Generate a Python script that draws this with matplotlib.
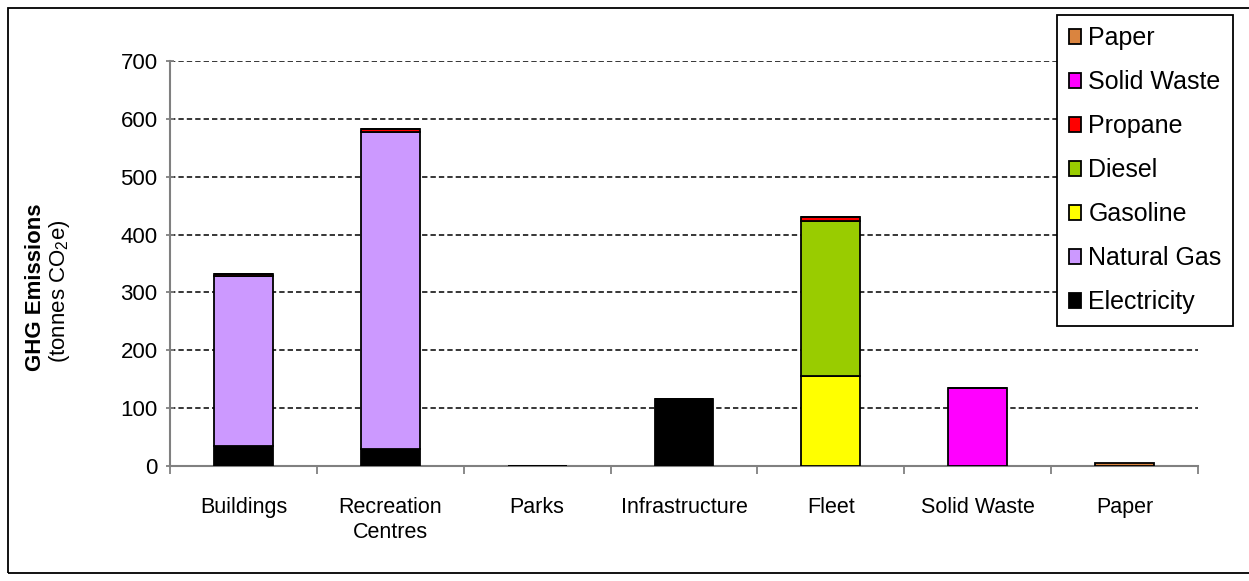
import matplotlib
matplotlib.use("Agg")
import matplotlib.pyplot as plt
from matplotlib.patches import Rectangle
import numpy as np

plt.rcParams["font.family"] = ["Liberation Sans", "DejaVu Sans"]
plt.rcParams["mathtext.fontset"] = "custom"
plt.rcParams["mathtext.rm"] = "Liberation Sans"

categories = ["Buildings", "Recreation\nCentres", "Parks", "Infrastructure",
              "Fleet", "Solid Waste", "Paper"]

# emissions by source, tonnes CO2e
electricity = [35, 29, 0.5, 116, 0, 0, 0]
natural_gas = [294, 548, 0, 0, 0, 0, 0]
gasoline = [0, 0, 0, 0, 156, 0, 0]
diesel = [0, 0, 0, 0, 268, 0, 0]
propane = [2, 6, 0, 0, 7, 0, 0]
solid_waste = [0, 0, 0, 0, 0, 134, 0]
paper = [0, 0, 0, 0, 0, 0, 6]

series = [
    ("Electricity", electricity, "#000000"),
    ("Natural Gas", natural_gas, "#CC99FF"),
    ("Gasoline", gasoline, "#FFFF00"),
    ("Diesel", diesel, "#99CC00"),
    ("Propane", propane, "#FF0000"),
    ("Solid Waste", solid_waste, "#FF00FF"),
    ("Paper", paper, "#DA843F"),
]

W, H = 1249, 581
fig = plt.figure(figsize=(W / 100, H / 100), dpi=100)
ax = fig.add_axes([170 / W, 1 - 466 / H, (1198 - 170) / W, (466 - 61) / H])

x = np.arange(len(categories))
bottom = np.zeros(len(categories))
handles = []
for name, vals, color in series:
    vals = np.array(vals, dtype=float)
    b = ax.bar(x, vals, 0.4, bottom=bottom, color=color, edgecolor="black",
               linewidth=1.3, label=name, zorder=3)
    handles.append(b)
    bottom += vals

ax.set_xlim(-0.5, len(categories) - 0.5)
ax.set_ylim(0, 700)
ax.set_yticks(range(0, 701, 100))
ax.set_xticks(x)
ax.set_xticklabels(categories, fontsize=15.5, linespacing=1.3)
ax.tick_params(axis="x", length=0, pad=22)
ax.set_xticks(np.arange(len(categories) + 1) - 0.5, minor=True)
ax.tick_params(axis="x", which="minor", length=6, width=1.3, color="#808080",
               direction="out")
ax.tick_params(axis="y", labelsize=16, length=6, width=1.3, color="#808080",
               direction="inout", pad=6)

ax.yaxis.grid(True, linestyle=(0, (3.5, 2)), color="black", linewidth=1.1,
              zorder=1)
ax.set_axisbelow(True)
for side in ["top", "right"]:
    ax.spines[side].set_visible(False)
for side in ["left", "bottom"]:
    ax.spines[side].set_color("#808080")
    ax.spines[side].set_linewidth(1.5)

fig.text(36 / W, 1 - 287 / H, "GHG Emissions", rotation=90, fontsize=16,
         fontweight="bold", ha="center", va="center")
fig.text(59 / W, 1 - 291 / H, "(tonnes CO$_2$e)", rotation=90, fontsize=16,
         ha="center", va="center")

leg = fig.legend(handles[::-1], [s[0] for s in series][::-1],
                 loc="upper right", bbox_to_anchor=(1233 / W, 1 - 15 / H),
                 bbox_transform=fig.transFigure, fontsize=18, frameon=True,
                 fancybox=False, edgecolor="black", framealpha=1,
                 handlelength=0.5, handleheight=0.5, handletextpad=0.3,
                 labelspacing=0.8, borderpad=0.45, borderaxespad=0)
leg.get_frame().set_linewidth(1.3)

# outer frame around the whole chart area
fig.patches.append(Rectangle((8 / W, 8 / H), 1.0, (573 - 8) / H,
                             transform=fig.transFigure, fill=False,
                             edgecolor="black", linewidth=1.3))

fig.savefig("out.png", dpi=100)
